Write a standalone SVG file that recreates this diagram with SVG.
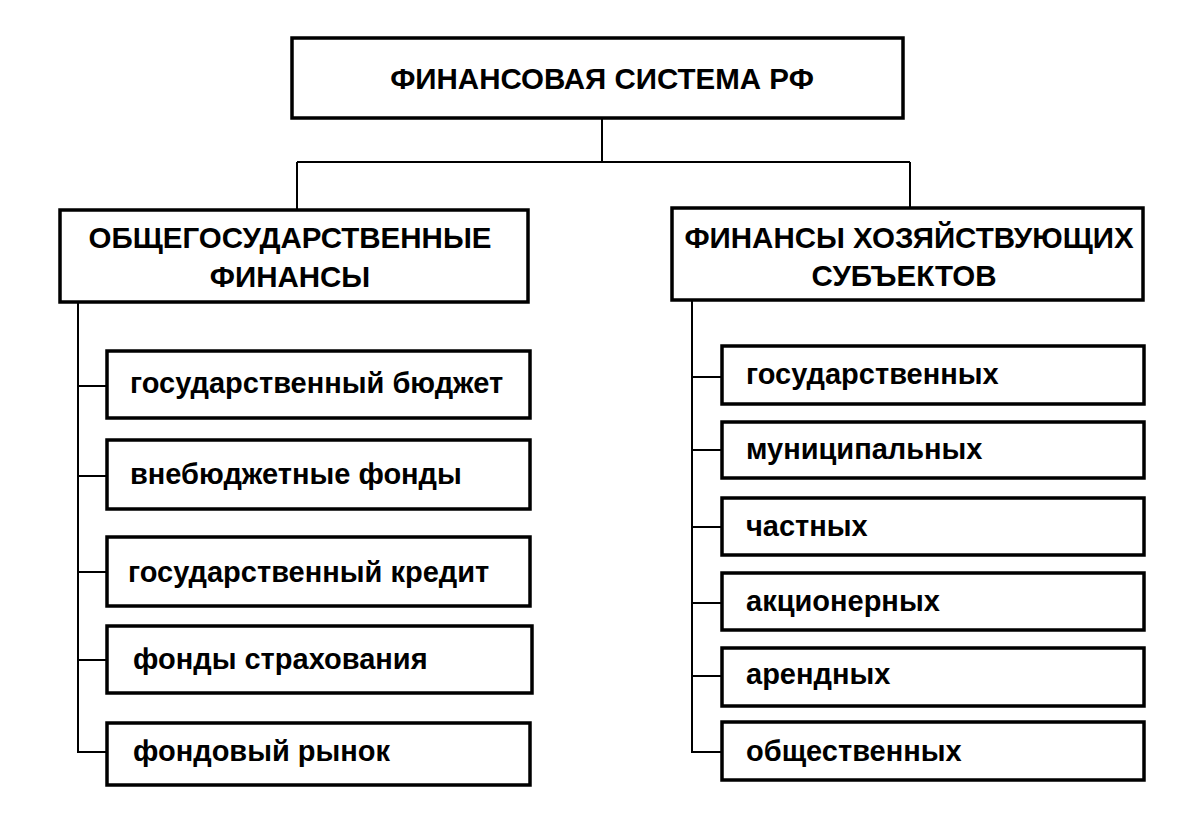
<svg xmlns="http://www.w3.org/2000/svg" width="1193" height="815" viewBox="0 0 1193 815">
<style>
.box{fill:#fff;stroke:#000;stroke-width:3.5}
.ln{fill:none;stroke:#000;stroke-width:2}
.h{font-family:"Liberation Sans",Arial,sans-serif;font-weight:bold;font-size:29.5px;fill:#000;text-anchor:middle}
.t{font-family:"Liberation Sans",Arial,sans-serif;font-weight:bold;font-size:29px;fill:#000}
</style>
<rect width="1193" height="815" fill="#fff"/>
<g id="connectors">
<path class="ln" d="M602 118V162M297 162H910M297 162V210M910 162V208"/>
<path class="ln" d="M78 302V752H107M78 386H107M78 476H107M78 572H107M78 660H107"/>
<path class="ln" d="M692 300V752H722M692 377H722M692 450H722M692 527H722M692 603H722M692 676H722"/>
</g>
<g id="root"><rect class="box" x="292" y="38" width="611" height="80"/><text class="h" x="602" y="89">ФИНАНСОВАЯ СИСТЕМА РФ</text></g>
<g id="gov"><rect class="box" x="60" y="210" width="468" height="92"/><text class="h" x="290" y="248">ОБЩЕГОСУДАРСТВЕННЫЕ</text><text class="h" x="290" y="287">ФИНАНСЫ</text></g>
<g id="biz"><rect class="box" x="672" y="208" width="471" height="92"/><text class="h" x="909" y="248">ФИНАНСЫ ХОЗЯЙСТВУЮЩИХ</text><text class="h" x="904" y="286">СУБЪЕКТОВ</text></g>
<g id="l1"><rect class="box" x="107" y="351" width="423" height="67"/><text class="t" x="130" y="393">государственный бюджет</text></g>
<g id="l2"><rect class="box" x="107" y="440" width="423" height="69"/><text class="t" x="130" y="484">внебюджетные фонды</text></g>
<g id="l3"><rect class="box" x="107" y="537" width="423" height="69"/><text class="t" x="128" y="582">государственный кредит</text></g>
<g id="l4"><rect class="box" x="107" y="626" width="425" height="67"/><text class="t" x="133" y="669">фонды страхования</text></g>
<g id="l5"><rect class="box" x="107" y="723" width="423" height="62"/><text class="t" x="133" y="761">фондовый рынок</text></g>
<g id="r1"><rect class="box" x="722" y="346" width="422" height="58"/><text class="t" x="746" y="384">государственных</text></g>
<g id="r2"><rect class="box" x="722" y="422" width="422" height="56"/><text class="t" x="746" y="459">муниципальных</text></g>
<g id="r3"><rect class="box" x="722" y="498" width="422" height="57"/><text class="t" x="746" y="536">частных</text></g>
<g id="r4"><rect class="box" x="722" y="573" width="422" height="57"/><text class="t" x="746" y="611">акционерных</text></g>
<g id="r5"><rect class="box" x="722" y="648" width="422" height="58"/><text class="t" x="746" y="684">арендных</text></g>
<g id="r6"><rect class="box" x="722" y="722" width="422" height="58"/><text class="t" x="746" y="761">общественных</text></g>
</svg>
